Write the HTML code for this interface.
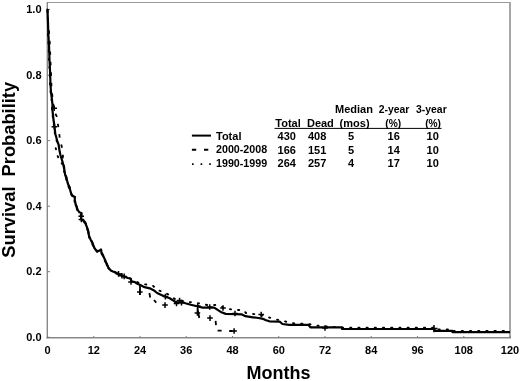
<!DOCTYPE html>
<html><head><meta charset="utf-8"><style>
html,body{margin:0;padding:0;background:#fff;width:520px;height:381px;overflow:hidden}
svg{display:block;will-change:transform}
text{font-family:"Liberation Sans",sans-serif;font-weight:bold;fill:#000}
.t11{font-size:11px}
.t18{font-size:18px}
</style></head><body>
<svg width="520" height="381" viewBox="0 0 520 381">
<line x1="47" y1="2.5" x2="511" y2="2.5" stroke="#999" stroke-width="1"/>
<line x1="510" y1="2" x2="510" y2="338" stroke="#a6a6a6" stroke-width="2"/>
<line x1="47.3" y1="2" x2="47.3" y2="338.4" stroke="#888" stroke-width="1.4"/>
<line x1="46.6" y1="337.7" x2="511" y2="337.7" stroke="#888" stroke-width="1.5"/>
<line x1="47.5" y1="337.3" x2="50" y2="337.3" stroke="#7a7a7a" stroke-width="1"/>
<text x="41.5" y="340.9" text-anchor="end" class="t11">0.0</text>
<line x1="47.5" y1="271.7" x2="50" y2="271.7" stroke="#7a7a7a" stroke-width="1"/>
<text x="41.5" y="275.3" text-anchor="end" class="t11">0.2</text>
<line x1="47.5" y1="206.2" x2="50" y2="206.2" stroke="#7a7a7a" stroke-width="1"/>
<text x="41.5" y="209.8" text-anchor="end" class="t11">0.4</text>
<line x1="47.5" y1="140.6" x2="50" y2="140.6" stroke="#7a7a7a" stroke-width="1"/>
<text x="41.5" y="144.2" text-anchor="end" class="t11">0.6</text>
<line x1="47.5" y1="75.1" x2="50" y2="75.1" stroke="#7a7a7a" stroke-width="1"/>
<text x="41.5" y="78.7" text-anchor="end" class="t11">0.8</text>
<line x1="47.5" y1="9.5" x2="50" y2="9.5" stroke="#7a7a7a" stroke-width="1"/>
<text x="41.5" y="13.1" text-anchor="end" class="t11">1.0</text>
<line x1="47.5" y1="336" x2="47.5" y2="337.6" stroke="#7a7a7a" stroke-width="1"/>
<text x="47.5" y="353.8" text-anchor="middle" class="t11">0</text>
<line x1="93.8" y1="336" x2="93.8" y2="337.6" stroke="#7a7a7a" stroke-width="1"/>
<text x="93.8" y="353.8" text-anchor="middle" class="t11">12</text>
<line x1="140.0" y1="336" x2="140.0" y2="337.6" stroke="#7a7a7a" stroke-width="1"/>
<text x="140.0" y="353.8" text-anchor="middle" class="t11">24</text>
<line x1="186.2" y1="336" x2="186.2" y2="337.6" stroke="#7a7a7a" stroke-width="1"/>
<text x="186.2" y="353.8" text-anchor="middle" class="t11">36</text>
<line x1="232.5" y1="336" x2="232.5" y2="337.6" stroke="#7a7a7a" stroke-width="1"/>
<text x="232.5" y="353.8" text-anchor="middle" class="t11">48</text>
<line x1="278.8" y1="336" x2="278.8" y2="337.6" stroke="#7a7a7a" stroke-width="1"/>
<text x="278.8" y="353.8" text-anchor="middle" class="t11">60</text>
<line x1="325.0" y1="336" x2="325.0" y2="337.6" stroke="#7a7a7a" stroke-width="1"/>
<text x="325.0" y="353.8" text-anchor="middle" class="t11">72</text>
<line x1="371.2" y1="336" x2="371.2" y2="337.6" stroke="#7a7a7a" stroke-width="1"/>
<text x="371.2" y="353.8" text-anchor="middle" class="t11">84</text>
<line x1="417.5" y1="336" x2="417.5" y2="337.6" stroke="#7a7a7a" stroke-width="1"/>
<text x="417.5" y="353.8" text-anchor="middle" class="t11">96</text>
<line x1="463.8" y1="336" x2="463.8" y2="337.6" stroke="#7a7a7a" stroke-width="1"/>
<text x="463.8" y="353.8" text-anchor="middle" class="t11">108</text>
<line x1="510.0" y1="336" x2="510.0" y2="337.6" stroke="#7a7a7a" stroke-width="1"/>
<text x="510.0" y="353.8" text-anchor="middle" class="t11">120</text>
<polyline points="47.5,9.5 47.9,20.0 48.0,35.0 48.6,45.0 49.1,60.0 49.5,68.0 49.8,75.0 50.1,85.0 50.6,92.0 51.6,100.0 52.1,105.0 52.0,110.0 52.6,115.0 53.1,120.0 53.8,124.0 54.2,128.0 54.6,131.0 54.9,134.0 56.1,138.0 56.8,141.0 55.7,147.9 57.1,154.9 59.5,160.0 62.9,165.0 63.9,170.0 64.7,175.0 65.9,178.0 67.2,183.0 69.1,188.0 70.5,193.0 72.0,196.0 74.3,197.0 74.3,200.0 75.3,205.0 76.5,208.0 77.3,210.2 78.9,212.3 80.7,213.0 80.7,219.4 83.3,220.7 85.0,223.5 86.5,227.3 87.5,230.0 87.8,233.0 88.6,236.0 90.3,240.0 92.3,244.0 93.9,248.0 95.0,249.5 96.7,251.5 98.5,250.8 100.5,249.5 101.0,252.0 102.0,255.0 103.7,258.0 105.0,261.0 106.7,265.5 108.2,268.0 110.3,270.5 112.4,271.5 115.1,272.4 118.0,273.9 121.4,275.5 123.7,276.4 127.4,278.0 130.0,278.5 135.0,281.0 140.3,283.5 146.6,284.6 152.9,285.7 157.0,289.9 163.4,292.0 168.6,294.6 175.0,299.0 185.0,301.5 197.0,303.0 207.3,305.0 215.7,305.0 227.3,308.7 235.2,310.0 243.0,310.0 246.0,313.0 255.0,314.2 262.0,315.5 268.5,317.3 275.3,319.2 281.5,320.6 288.3,322.2 295.0,323.6 302.7,323.6 309.9,324.3 316.6,325.6 325.0,326.3 342.0,327.7 434.5,327.7 434.5,329.5 452.5,329.5 452.5,330.9 510.0,330.9" fill="none" stroke="#000" stroke-width="1.9" stroke-dasharray="1.2 7" stroke-linecap="round"/>
<polyline points="47.5,9.5 47.9,20.0 49.3,35.0 49.9,45.0 50.4,60.0 50.8,68.0 51.1,75.0 51.4,85.0 51.9,92.0 52.9,100.0 53.4,105.0 53.3,110.0 57.1,117.0 57.5,121.0 58.6,129.0 60.0,140.0 62.4,149.0 63.0,156.0 62.4,160.0 63.8,165.0 64.8,170.0 65.6,175.0 66.8,178.0 68.1,183.0 70.0,188.0 71.4,193.0 72.9,196.0 75.2,197.0 75.2,200.0 76.2,205.0 77.4,208.0 78.2,210.2 79.8,212.3 81.6,213.0 81.6,219.4 84.2,220.7 85.9,223.5 87.4,227.3 88.4,230.0 88.7,233.0 89.5,236.0 91.2,240.0 93.2,244.0 94.8,248.0 95.9,249.5 97.6,251.5 99.4,250.8 101.4,249.5 101.9,252.0 102.9,255.0 104.6,258.0 105.9,261.0 107.6,265.5 109.1,268.0" fill="none" stroke="#000" stroke-width="1.8" stroke-dasharray="3.5 7"/>
<path d="M140,284V295M149.4,293L150.2,297.5M154,300L156.2,302.6M197.4,308L199.3,318M215.6,320.8L216,325.2M217.6,330.7H221.6M229.2,331H232.5" fill="none" stroke="#000" stroke-width="1.8"/>
<polyline points="47.5,9.5 47.9,20.0 48.4,35.0 49.0,45.0 49.5,60.0 49.9,68.0 50.2,75.0 50.5,85.0 51.0,92.0 52.0,100.0 52.5,105.0 52.4,110.0 53.0,115.0 53.5,120.0 54.2,124.0 54.6,128.0 55.0,131.0 55.3,134.0 56.5,138.0 57.2,141.0 58.7,145.0 59.4,150.0 60.4,155.0 62.0,160.0 63.4,165.0 64.4,170.0 65.2,175.0 66.4,178.0 67.7,183.0 69.6,188.0 71.0,193.0 72.5,196.0 74.8,197.0 74.8,200.0 75.8,205.0 77.0,208.0 77.8,210.2 79.4,212.3 81.2,213.0 81.2,219.4 83.8,220.7 85.5,223.5 87.0,227.3 88.0,230.0 88.3,233.0 89.1,236.0 90.8,240.0 92.8,244.0 94.4,248.0 95.5,249.5 97.2,251.5 99.0,250.8 101.0,249.5 101.5,252.0 102.5,255.0 104.2,258.0 105.5,261.0 107.2,265.5 108.7,268.0 110.8,270.5 112.9,271.5 115.6,272.4 118.5,273.9 121.9,275.5 124.2,276.4 127.9,278.0 130.5,278.5 131.6,281.4 134.7,282.0 137.4,283.8 140.3,285.1 144.5,287.2 149.8,288.3 154.0,290.4 157.1,293.0 161.4,295.1 165.5,296.7 169.7,298.2 172.9,300.2 175.4,302.0 183.0,302.4 185.4,303.2 190.8,304.7 196.0,306.0 202.6,307.6 214.2,307.6 221.5,312.3 225.7,313.9 235.7,314.2 241.5,314.3 245.4,316.2 253.0,317.3 258.5,318.0 263.0,318.8 265.4,320.0 270.0,321.5 279.6,321.7 282.5,324.0 289.2,324.9 308.5,324.9 310.4,327.4 342.0,327.4 342.0,329.0 434.5,329.0 434.5,330.8 452.5,330.8 452.5,332.2 510.0,332.2" fill="none" stroke="#000" stroke-width="2.2" stroke-linejoin="round"/>
<path d="M51.4,108.3H57.0M54.2,105.5V111.1M51.6,126.8H57.2M54.4,124.0V129.6M78.4,216.3H84.0M81.2,213.5V219.1M78.6,219.4H84.2M81.4,216.6V222.2M115.7,273.9H121.3M118.5,271.1V276.7M119.1,275.7H124.7M121.9,272.9V278.5M121.4,276.4H127.0M124.2,273.6V279.2M128.2,282.0H133.8M131.0,279.2V284.8M162.6,296.6H168.2M165.4,293.8V299.4M173.7,303.5H179.3M176.5,300.7V306.3M176.8,300.5H182.4M179.6,297.7V303.3M178.7,302.8H184.3M181.5,300.0V305.6M194.9,306.0H200.5M197.7,303.2V308.8M206.9,307.0H212.5M209.7,304.2V309.8M220.2,308.0H225.8M223.0,305.2V310.8M232.2,313.5H237.8M235.0,310.7V316.3M258.4,314.6H264.0M261.2,311.8V317.4M322.2,328.0H327.8M325.0,325.2V330.8M137.0,292.0H142.6M139.8,289.2V294.8M162.2,305.1H167.8M165.0,302.3V307.9M194.6,312.9H200.2M197.4,310.1V315.7M207.2,318.1H212.8M210.0,315.3V320.9M231.3,331.0H236.9M234.1,328.2V333.8M430.4,328.6H437.6M434.0,325.0V332.2" stroke="#000" stroke-width="1.5" fill="none"/>
<text x="278.5" y="379.3" text-anchor="middle" class="t18">Months</text>
<text transform="translate(15.2,169.8) rotate(-90)" text-anchor="middle" class="t18" style="font-size:18.3px" xml:space="preserve">Survival  Probability</text>
<line x1="191.9" y1="135.6" x2="211" y2="135.6" stroke="#000" stroke-width="2"/>
<line x1="191.9" y1="149.7" x2="211" y2="149.7" stroke="#000" stroke-width="2" stroke-dasharray="4.3 7.8"/>
<line x1="192" y1="164.2" x2="212" y2="164.2" stroke="#000" stroke-width="1.8" stroke-dasharray="1.6 7"/>
<text x="216" y="139.6" class="t11">Total</text>
<text x="216" y="153.3" class="t11" style="font-size:10.7px">2000-2008</text>
<text x="216" y="167.2" class="t11" style="font-size:10.7px">1990-1999</text>
<text x="354" y="112.8" text-anchor="middle" class="t11">Median</text>
<text x="394.1" y="112.8" text-anchor="middle" class="t11" style="font-size:10.4px">2-year</text>
<text x="431.4" y="112.8" text-anchor="middle" class="t11" style="font-size:10.4px">3-year</text>
<text x="288" y="126.6" text-anchor="middle" class="t11">Total</text>
<text x="320.4" y="126.6" text-anchor="middle" class="t11">Dead</text>
<text x="354.6" y="126.6" text-anchor="middle" class="t11">(mos)</text>
<text x="393.2" y="126.8" text-anchor="middle" class="t11" style="font-size:10.2px">(%)</text>
<text x="433.1" y="126.8" text-anchor="middle" class="t11" style="font-size:10.2px">(%)</text>
<line x1="274.5" y1="128.4" x2="441.5" y2="128.4" stroke="#000" stroke-width="1"/>
<text x="286.8" y="140.2" text-anchor="middle" class="t11">430</text>
<text x="317.1" y="140.2" text-anchor="middle" class="t11">408</text>
<text x="351.1" y="140.2" text-anchor="middle" class="t11">5</text>
<text x="393.7" y="140.2" text-anchor="middle" class="t11">16</text>
<text x="432.7" y="140.2" text-anchor="middle" class="t11">10</text>
<text x="286.8" y="153.5" text-anchor="middle" class="t11">166</text>
<text x="317.1" y="153.5" text-anchor="middle" class="t11">151</text>
<text x="351.1" y="153.5" text-anchor="middle" class="t11">5</text>
<text x="393.7" y="153.5" text-anchor="middle" class="t11">14</text>
<text x="432.7" y="153.5" text-anchor="middle" class="t11">10</text>
<text x="286.8" y="167.0" text-anchor="middle" class="t11">264</text>
<text x="317.1" y="167.0" text-anchor="middle" class="t11">257</text>
<text x="351.1" y="167.0" text-anchor="middle" class="t11">4</text>
<text x="393.7" y="167.0" text-anchor="middle" class="t11">17</text>
<text x="432.7" y="167.0" text-anchor="middle" class="t11">10</text>
</svg>
</body></html>
